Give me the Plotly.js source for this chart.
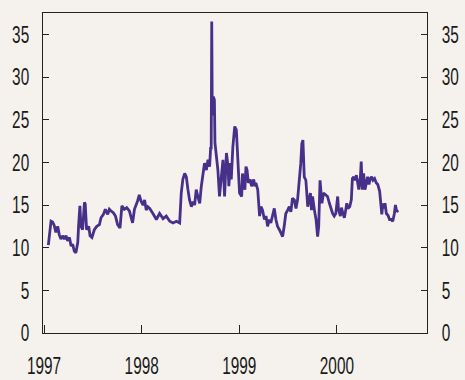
<!DOCTYPE html>
<html>
<head>
<meta charset="utf-8">
<script src="https://cdn.plot.ly/plotly-3.0.1.min.js"></script>
<style>
html,body{margin:0;padding:0;background:#f5f2ed;}
#chart{width:465px;height:380px;}
</style>
</head>
<body>
<div id="chart"></div>
<script>
var dates = [
"1997-01-17","1997-01-22","1997-01-27","1997-02-02","1997-02-08","1997-02-14","1997-02-21","1997-02-27",
"1997-03-05","1997-03-11","1997-03-18","1997-03-24","1997-03-30","1997-04-06","1997-04-12","1997-04-18",
"1997-04-24","1997-04-30","1997-05-07","1997-05-10","1997-05-15","1997-05-19","1997-05-25","1997-06-01",
"1997-06-04","1997-06-09","1997-06-17","1997-06-22","1997-06-29","1997-07-08","1997-07-17","1997-07-27",
"1997-08-02","1997-08-11","1997-08-18","1997-08-27","1997-09-02","1997-09-08","1997-09-17","1997-09-25",
"1997-10-03","1997-10-12","1997-10-19","1997-10-28","1997-11-06","1997-11-16","1997-11-22","1997-11-28",
"1997-12-05","1997-12-11","1997-12-17","1997-12-23","1997-12-29",
"1998-01-06","1998-01-12","1998-01-18","1998-01-24","1998-01-31","1998-02-06","1998-02-12","1998-02-25",
"1998-03-09","1998-03-22","1998-04-03","1998-04-16","1998-04-28","1998-05-11","1998-05-23","1998-05-29",
"1998-06-04","1998-06-11","1998-06-17","1998-06-23","1998-06-29","1998-07-06","1998-07-12","1998-07-18",
"1998-07-24","1998-07-30","1998-08-06","1998-08-12","1998-08-18","1998-08-24","1998-08-31","1998-09-06",
"1998-09-12","1998-09-16","1998-09-18","1998-09-20","1998-09-22","1998-09-26","1998-09-30","1998-10-02",
"1998-10-07","1998-10-13","1998-10-19","1998-10-26","1998-11-01","1998-11-07","1998-11-14","1998-11-20",
"1998-11-23","1998-11-29","1998-12-02","1998-12-08","1998-12-15","1998-12-21","1998-12-25","1998-12-30",
"1999-01-02","1999-01-10","1999-01-13","1999-01-17","1999-01-22","1999-01-26","1999-01-30","1999-02-04",
"1999-02-11","1999-02-16","1999-02-20","1999-02-24","1999-02-28","1999-03-04","1999-03-11","1999-03-14",
"1999-03-18","1999-03-23","1999-03-29","1999-04-05","1999-04-11","1999-04-17","1999-04-23","1999-04-29",
"1999-05-06","1999-05-12","1999-05-18","1999-05-24","1999-05-31","1999-06-06","1999-06-12","1999-06-18",
"1999-06-24","1999-07-01","1999-07-07","1999-07-13","1999-07-19","1999-07-26","1999-08-01","1999-08-07",
"1999-08-14","1999-08-19","1999-08-23","1999-08-27","1999-09-01","1999-09-07","1999-09-14","1999-09-20",
"1999-09-24","1999-09-28","1999-10-02","1999-10-09","1999-10-15","1999-10-21","1999-10-25","1999-10-30",
"1999-11-02","1999-11-06","1999-11-12","1999-11-21","1999-11-27","1999-12-04","1999-12-10","1999-12-16",
"1999-12-22","1999-12-28",
"2000-01-04","2000-01-07","2000-01-14","2000-01-18","2000-01-24","2000-01-29","2000-02-03","2000-02-07",
"2000-02-11","2000-02-18","2000-02-24","2000-02-28","2000-03-04","2000-03-08","2000-03-14","2000-03-20",
"2000-03-23","2000-03-29","2000-04-01","2000-04-05","2000-04-10","2000-04-15","2000-04-20","2000-04-25",
"2000-04-30","2000-05-05","2000-05-10","2000-05-15","2000-05-21","2000-05-27","2000-06-02","2000-06-09",
"2000-06-12","2000-06-17","2000-06-21","2000-06-25","2000-06-29","2000-07-04","2000-07-10","2000-07-16",
"2000-07-22","2000-07-28","2000-08-03","2000-08-07","2000-08-12","2000-08-17"
];
// Series values (per cent)
var values = [
10.3,12.2,13.1,13.0,12.6,11.8,12.5,11.5,
11.0,11.4,11.0,11.4,10.8,11.2,10.2,10.4,
9.6,9.4,10.6,12.5,14.9,12.5,12.1,15.3,
15.1,12.1,12.5,11.4,11.2,12.1,12.5,12.7,
13.5,13.9,14.5,13.9,14.5,14.3,14.1,13.7,
12.7,12.3,14.9,14.5,14.7,14.3,13.5,12.9,
14.5,14.9,15.5,16.2,15.5,
15.0,15.6,14.4,14.8,14.6,14.2,14.0,13.3,
14.0,13.4,13.7,13.1,12.9,13.1,12.9,16.4,
18.0,18.7,18.3,16.8,15.6,14.8,15.4,15.0,
16.8,16.0,15.2,17.2,18.7,19.9,19.1,20.3,
19.5,21.8,21.5,36.5,25.5,27.7,27.3,22.3,
20.7,19.1,16.0,18.3,20.3,16.0,21.1,19.5,
17.2,19.9,18.0,21.8,24.2,23.8,20.7,18.0,
16.4,16.0,18.7,17.6,16.8,19.5,19.1,17.6,
18.0,17.2,17.6,18.0,17.2,17.6,16.8,14.8,
13.7,14.8,14.4,13.3,13.7,12.5,13.3,12.9,
13.7,14.6,13.3,12.5,12.1,11.7,11.3,12.5,
14.0,14.4,14.8,14.2,15.8,15.6,14.6,15.6,
17.9,19.9,22.2,22.6,18.3,17.9,14.8,15.6,
16.4,14.4,16.0,14.4,13.3,11.3,12.5,17.9,
16.8,15.2,16.4,16.2,16.0,15.2,14.6,14.0,
13.7,14.0,
16.0,14.5,13.7,14.7,14.0,13.5,14.4,15.2,
14.6,14.8,15.6,18.1,18.3,17.9,18.5,17.6,
16.8,18.3,20.1,16.8,18.7,16.8,17.8,18.3,
17.4,18.1,18.3,17.9,18.1,17.6,17.4,16.6,
15.6,13.9,15.2,14.6,15.2,14.0,13.8,13.3,
13.3,13.1,14.0,15.0,14.2,14.4
];
var xTickVals = ["1997-01-01","1998-01-01","1999-01-01","2000-01-01"];
var xTickText = ["1997","1998","1999","2000"];
var yTickVals = [0,5,10,15,20,25,30,35];
var yTickText = ["0","5","10","15","20","25","30","35"];

var FONT = {family:"'Liberation Sans',Arial,sans-serif", size:24, color:"#1a1a1a"};
var bg = "#f5f2ed";

var trace = {
  x: dates, y: values, type: "scatter", mode: "lines",
  line: {color:"#46308a", width:2.8},
  hoverinfo: "skip", showlegend: false
};
// same series on the right-hand axis (transparent) so that axis is drawn
var traceRight = {
  x: dates, y: values, type: "scatter", mode: "lines", yaxis: "y2",
  line: {color:"rgba(0,0,0,0)", width:0},
  hoverinfo: "skip", showlegend: false
};

var yCommon = {
  range:[0,37.5], tickmode:"array", tickvals:yTickVals, ticktext:yTickText,
  ticks:"inside", ticklen:6, tickwidth:1, tickcolor:"#222",
  showline:true, linecolor:"#222", linewidth:1,
  showgrid:false, zeroline:false, tickfont:FONT, fixedrange:true
};

var layout = {
  width:465, height:380,
  margin:{l:43, r:38, t:13, b:47, pad:0},
  paper_bgcolor:bg, plot_bgcolor:bg,
  showlegend:false,
  xaxis:{
    type:"date", range:["1996-12-28","2000-12-03"],
    tickmode:"array", tickvals:xTickVals, ticktext:xTickText,
    ticks:"inside", ticklen:8, tickwidth:1, tickcolor:"#222",
    showline:true, mirror:true, linecolor:"#222", linewidth:1,
    showgrid:false, zeroline:false, tickfont:FONT, ticklabelstandoff:11
  },
  yaxis:Object.assign({}, yCommon, {side:"left", ticklabelstandoff:8}),
  yaxis2:Object.assign({}, yCommon, {side:"right", overlaying:"y", anchor:"x", ticklabelstandoff:9})
};

function condense(gd){
  var s = 0.64;
  var texts = gd.querySelectorAll("g.xtick text, g.ytick text, g.y2tick text");
  texts.forEach(function(t){
    var ax = parseFloat(t.getAttribute("x")) || 0;
    var tr = t.getAttribute("transform") || "";
    t.setAttribute("transform", tr + " translate(" + ax + ",0) scale(" + s + ",1) translate(" + (-ax) + ",0)");
  });
}

Plotly.newPlot("chart", [trace, traceRight], layout, {staticPlot:true, displayModeBar:false})
  .then(function(gd){ condense(gd); });
</script>
</body>
</html>
